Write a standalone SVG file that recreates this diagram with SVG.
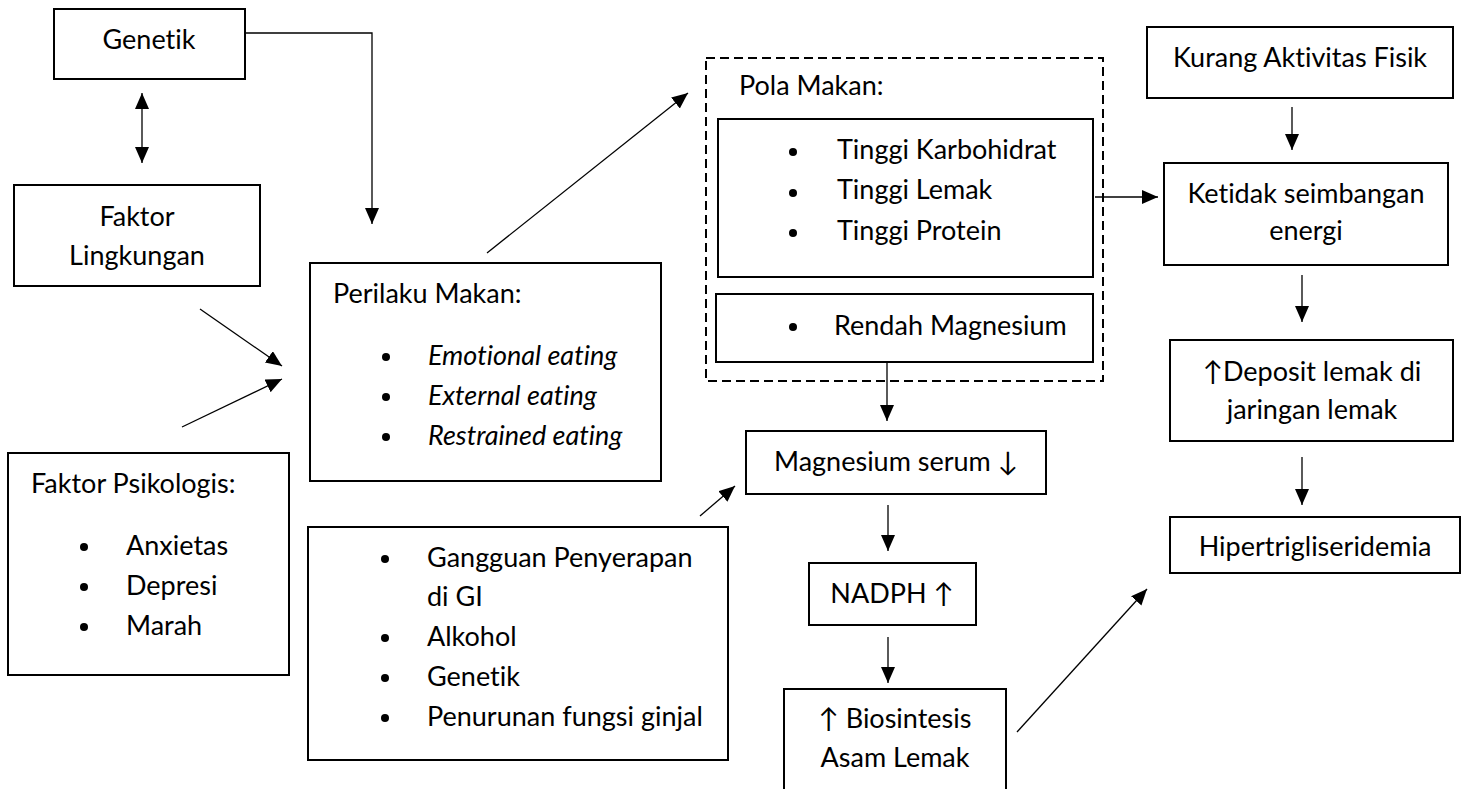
<svg xmlns="http://www.w3.org/2000/svg" width="1468" height="789" viewBox="0 0 1468 789">
<defs>
<style>
.box{fill:#fff;stroke:#000;stroke-width:2}
.dash{fill:none;stroke:#000;stroke-width:2;stroke-dasharray:9 5}
.t{font-family:Lato,"Liberation Sans",sans-serif;font-size:27px;fill:#000;font-variant-ligatures:none;font-feature-settings:"liga" 0}
.c{text-anchor:middle}
.i{font-style:italic}
.ln{fill:none;stroke:#000;stroke-width:1.3}
.ar{marker-end:url(#ah)}
</style>
<marker id="ah" markerUnits="userSpaceOnUse" markerWidth="17" markerHeight="15" refX="16" refY="7" orient="auto-start-reverse">
<path d="M0,0 L16,7 L0,14 z" fill="#000"/>
</marker>
</defs>
<rect width="1468" height="789" fill="#fff"/>

<g id="connectors">
<polyline class="ln ar" points="245,33 372,33 372,224"/>
<line class="ln ar" x1="142" y1="93" x2="142" y2="163" style="marker-start:url(#ah)"/>
<line class="ln ar" x1="200" y1="309" x2="282" y2="366"/>
<line class="ln ar" x1="182" y1="427" x2="282" y2="379"/>
<line class="ln ar" x1="487" y1="253" x2="688" y2="93"/>
<line class="ln ar" x1="1095" y1="197" x2="1158" y2="197"/>
<line class="ln ar" x1="1292" y1="107" x2="1292" y2="150"/>
<line class="ln ar" x1="1302" y1="275" x2="1302" y2="322"/>
<line class="ln ar" x1="1302" y1="457" x2="1302" y2="505"/>
<line class="ln ar" x1="887" y1="362" x2="887" y2="421"/>
<line class="ln ar" x1="700" y1="516" x2="735" y2="486"/>
<line class="ln ar" x1="888" y1="505" x2="888" y2="551"/>
<line class="ln ar" x1="888" y1="637" x2="888" y2="683"/>
<line class="ln ar" x1="1017" y1="732" x2="1147" y2="589"/>
</g>

<g id="genetik">
<rect class="box" x="54" y="9" width="191" height="70"/>
<text class="t c" x="149" y="49">Genetik</text>
</g>

<g id="faktor-lingkungan">
<rect class="box" x="14" y="185" width="246" height="101"/>
<text class="t c" x="137" y="226">Faktor</text>
<text class="t c" x="137" y="265">Lingkungan</text>
</g>

<g id="faktor-psikologis">
<rect class="box" x="8" y="453" width="281" height="222"/>
<text class="t" x="31" y="493">Faktor Psikologis:</text>
<circle cx="84" cy="547" r="4"/><circle cx="84" cy="587" r="4"/><circle cx="84" cy="627" r="4"/>
<text class="t" x="126" y="555">Anxietas</text>
<text class="t" x="126" y="595">Depresi</text>
<text class="t" x="126" y="635">Marah</text>
</g>

<g id="perilaku-makan">
<rect class="box" x="310" y="263" width="351" height="218"/>
<text class="t" x="333" y="303">Perilaku Makan:</text>
<circle cx="386" cy="357" r="4"/><circle cx="386" cy="397" r="4"/><circle cx="386" cy="437" r="4"/>
<text class="t i" x="428" y="365">Emotional eating</text>
<text class="t i" x="428" y="405">External eating</text>
<text class="t i" x="428" y="445">Restrained eating</text>
</g>

<g id="penyebab-mg">
<rect class="box" x="308" y="527" width="420" height="233"/>
<circle cx="385" cy="559" r="4"/><circle cx="385" cy="638" r="4"/><circle cx="385" cy="678" r="4"/><circle cx="385" cy="718" r="4"/>
<text class="t" x="427" y="567">Gangguan Penyerapan</text>
<text class="t" x="427" y="606">di GI</text>
<text class="t" x="427" y="646">Alkohol</text>
<text class="t" x="427" y="686">Genetik</text>
<text class="t" x="427" y="726">Penurunan fungsi ginjal</text>
</g>

<g id="pola-makan">
<rect class="dash" x="706" y="58" width="397" height="323"/>
<text class="t" x="739" y="95">Pola Makan:</text>
<rect class="box" x="718" y="119" width="375" height="158"/>
<circle cx="793" cy="152" r="4"/><circle cx="793" cy="193" r="4"/><circle cx="793" cy="233" r="4"/>
<text class="t" x="837" y="159">Tinggi Karbohidrat</text>
<text class="t" x="837" y="199">Tinggi Lemak</text>
<text class="t" x="837" y="240">Tinggi Protein</text>
<rect class="box" x="716" y="294" width="377" height="68"/>
<circle cx="793" cy="327" r="4"/>
<text class="t" x="834" y="335">Rendah Magnesium</text>
</g>

<g id="magnesium-serum">
<rect class="box" x="746" y="431" width="300" height="63"/>
<text class="t c" x="896" y="471">Magnesium serum ↓</text>
</g>

<g id="nadph">
<rect class="box" x="809" y="563" width="167" height="62"/>
<text class="t c" x="892" y="603">NADPH ↑</text>
</g>

<g id="biosintesis">
<rect class="box" x="784" y="689" width="222" height="120"/>
<text class="t c" x="895" y="728">↑ Biosintesis</text>
<text class="t c" x="895" y="767">Asam Lemak</text>
</g>

<g id="kurang-aktivitas">
<rect class="box" x="1147" y="27" width="306" height="71"/>
<text class="t c" x="1300" y="67">Kurang Aktivitas Fisik</text>
</g>

<g id="ketidakseimbangan">
<rect class="box" x="1164" y="163" width="284" height="102"/>
<text class="t c" x="1306" y="203">Ketidak seimbangan</text>
<text class="t c" x="1306" y="240">energi</text>
</g>

<g id="deposit-lemak">
<rect class="box" x="1170" y="340" width="283" height="101"/>
<text class="t c" x="1312" y="381">↑Deposit lemak di</text>
<text class="t c" x="1312" y="419">jaringan lemak</text>
</g>

<g id="hipertrigliseridemia">
<rect class="box" x="1170" y="517" width="290" height="56"/>
<text class="t c" x="1315" y="556">Hipertrigliseridemia</text>
</g>
</svg>
